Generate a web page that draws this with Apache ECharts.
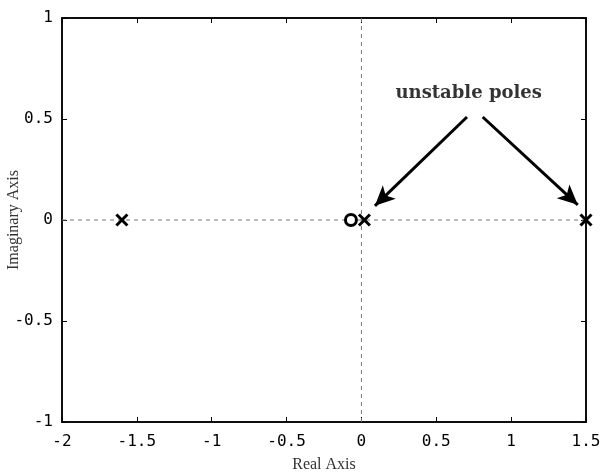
<!DOCTYPE html>
<html><head><meta charset="utf-8">
<script src="https://cdn.jsdelivr.net/npm/echarts@6/dist/echarts.min.js"></script>
<style>html,body{margin:0;padding:0;background:#fff}#c{width:600px;height:473px}</style>
</head><body><div id="c"></div>
<script>
const xTicks = [-2, -1.5, -1, -0.5, 0, 0.5, 1, 1.5];
const yTicks = [-1, -0.5, 0, 0.5, 1];
const poles = [[-1.6, 0], [0.02, 0], [1.5, 0]];
const zeros = [[-0.07, 0]];
const arrows = [[[0.705, 0.51], [0.09, 0.07]], [[0.81, 0.51], [1.445, 0.075]]];
const annotation = {text: 'unstable poles', x: 0.72, y: 0.625};

const chart = echarts.init(document.getElementById('c'));
const tickFont = {fontFamily: 'DejaVu Sans Mono', fontSize: 16, color: '#000'};
const crossPath = 'path://M0,0L10,10M10,0L0,10';
chart.setOption({
  animation: false,
  grid: {left: 62, right: 14, top: 18, bottom: 51, show: true, borderColor: '#000', borderWidth: 1.5,
    backgroundColor: '#fff', containLabel: false, outerBoundsMode: 'none'},
  xAxis: [{
    type: 'value', min: -2, max: 1.5, interval: 0.5, position: 'bottom',
    axisLine: {show: true, onZero: false, lineStyle: {color: '#000', width: 1.5}},
    axisTick: {show: true, inside: true, length: 5, lineStyle: {color: '#000'}},
    axisLabel: Object.assign({margin: 12, formatter: v => String(v)}, tickFont),
    splitLine: {show: false},
    name: 'Real Axis', nameLocation: 'middle', nameGap: 35, nameMoveOverlap: false,
    nameTextStyle: {fontFamily: 'Liberation Serif', fontSize: 16, color: '#333'}
  }, {
    type: 'value', min: -2, max: 1.5, interval: 0.5, position: 'top',
    axisLine: {show: true, onZero: false, lineStyle: {color: '#000', width: 1.5}},
    axisTick: {show: true, inside: true, length: 5, lineStyle: {color: '#000'}},
    axisLabel: {show: false}, splitLine: {show: false}
  }],
  yAxis: [{
    type: 'value', min: -1, max: 1, interval: 0.5, position: 'left',
    axisLine: {show: true, onZero: false, lineStyle: {color: '#000', width: 1.5}},
    axisTick: {show: true, inside: true, length: 5, lineStyle: {color: '#000'}},
    axisLabel: Object.assign({margin: 9, formatter: v => String(v)}, tickFont),
    splitLine: {show: false},
    name: 'Imaginary Axis', nameLocation: 'middle', nameGap: 40, nameMoveOverlap: false,
    nameTextStyle: {fontFamily: 'Liberation Serif', fontSize: 16, color: '#333'}
  }, {
    type: 'value', min: -1, max: 1, interval: 0.5, position: 'right',
    axisLine: {show: true, onZero: false, lineStyle: {color: '#000', width: 1.5}},
    axisTick: {show: true, inside: true, length: 5, lineStyle: {color: '#000'}},
    axisLabel: {show: false}, splitLine: {show: false}
  }],
  series: [{
    type: 'line', data: [[-2, 0], [1.5, 0]], symbol: 'none', silent: true,
    lineStyle: {color: '#777', width: 1, type: [4, 4]}, z: 1
  }, {
    type: 'line', data: [[0, -1], [0, 1]], symbol: 'none', silent: true,
    lineStyle: {color: '#777', width: 1, type: [4, 4]}, z: 1
  }, {
    type: 'scatter', data: poles, symbol: crossPath, symbolSize: 11,
    itemStyle: {color: 'none', borderColor: '#000', borderWidth: 3, opacity: 1}, z: 5,
    markLine: {
      silent: true, symbol: ['none', 'arrow'], symbolSize: [14, 20],
      lineStyle: {color: '#000', width: 3, type: 'solid'}, label: {show: false},
      data: arrows.map(a => [{coord: a[0]}, {coord: a[1]}])
    }
  }, {
    type: 'scatter', data: [[annotation.x, annotation.y]], symbolSize: 1, silent: true,
    itemStyle: {color: 'rgba(0,0,0,0)'},
    label: {show: true, position: [0, 0], align: 'center', verticalAlign: 'middle', formatter: annotation.text,
      fontFamily: 'DejaVu Serif', fontWeight: 'bold', fontSize: 18, color: '#000', textBorderWidth: 0}
  }, {
    type: 'scatter', data: zeros, symbol: 'circle', symbolSize: 11,
    itemStyle: {color: '#fff', borderColor: '#000', borderWidth: 3, opacity: 1}, z: 4
  }]
});
</script></body></html>
